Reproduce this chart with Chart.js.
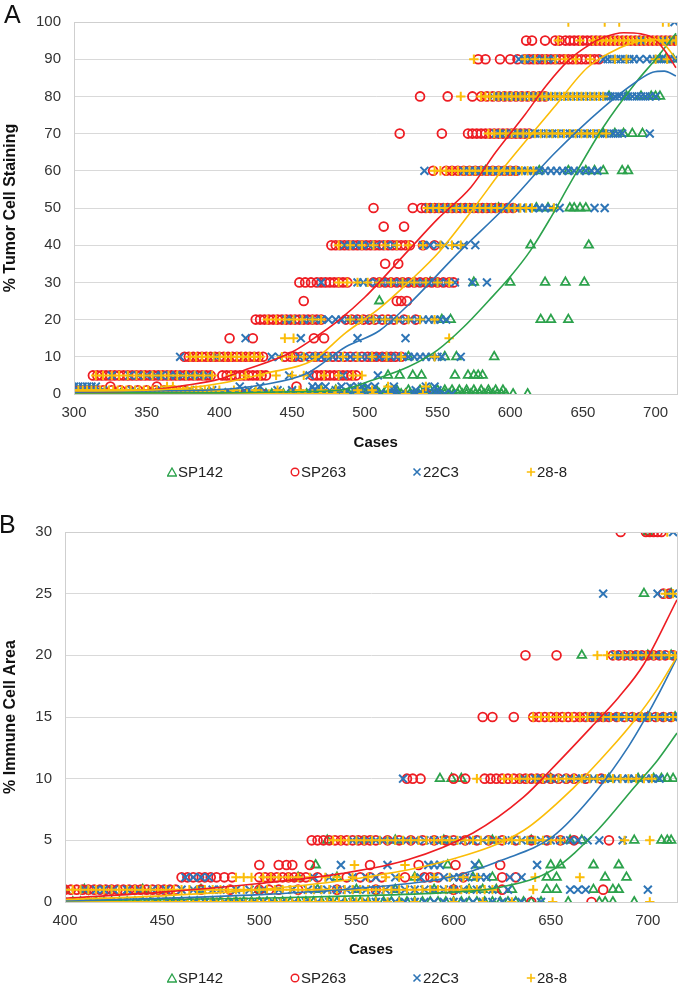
<!DOCTYPE html>
<html>
<head>
<meta charset="utf-8">
<script src="https://cdn.jsdelivr.net/npm/chart.js@4.4.1/dist/chart.umd.min.js"></script>
<style>
  body { margin: 0; background: #fff; font-family: "Liberation Sans", Arial, sans-serif; }
  #wrap { position: relative; width: 685px; height: 987px; overflow: hidden; }
  canvas { position: absolute; left: 0; }
  .panel { position: absolute; font-size: 25px; line-height: 1; color: #111; }
  .legend { position: absolute; left: 0; width: 685px; height: 20px; font-size: 15px; color: #222; }
  .legend span { position: absolute; top: 0; line-height: 20px; }
  .legend svg { position: absolute; top: 5px; }
</style>
</head>
<body>
<div id="wrap">
  <canvas id="chartA" width="685" height="500" style="top:0"></canvas>
  <canvas id="chartB" width="685" height="487" style="top:500px"></canvas>
  <div class="panel" style="left:4px;top:2px">A</div>
  <div class="panel" style="left:-1px;top:512px">B</div>
  <div class="legend" id="legendA" style="top:462px"></div>
  <div class="legend" id="legendB" style="top:968px"></div>
</div>
<script>
var seriesNames = ["SP142", "SP263", "22C3", "28-8"];
var seriesColors = ["#2ca24c", "#ee1d23", "#2e75b6", "#fbbd08"];
var seriesMarkers = ["triangle", "circle", "crossRot", "cross"];

var xTicksA = [300, 350, 400, 450, 500, 550, 600, 650, 700];
var xTicksB = [400, 450, 500, 550, 600, 650, 700];

// panel A: % tumor cell staining, x = case number, keyed by score level
var tumorSP142 = {
  0: [300, 304, 308, 312, 316, 320, 324, 328, 332, 336, 340, 344, 348, 352, 356, 360, 364, 368, 372, 376, 380, 384, 388, 392, 396, 400, 404, 408, 412, 416, 420, 424, 428, 432, 436, 440, 444, 448, 452, 456, 460, 464, 468, 471, 474, 477, 480, 483, 486, 489, 492, 495, 498, 501, 504, 507, 510, 513, 516, 519, 522, 525, 528, 531, 534, 537, 540, 543, 546, 549, 552, 555, 558, 561, 564, 567, 570, 573, 576, 579, 582, 585, 588, 591, 594, 597, 602, 612],
  1: [470, 480, 490, 500, 508, 515, 522, 530, 538, 545, 550, 555, 560, 565, 570, 575, 580, 585, 590, 595],
  5: [516, 524, 533, 539, 562, 571, 575, 578, 581],
  10: [530, 555, 563, 589],
  20: [553, 559, 621, 628, 640],
  25: [510],
  30: [545, 575, 600, 624, 638, 651],
  40: [614, 654],
  50: [592, 618, 626, 641, 644, 648, 652],
  60: [583, 620, 640, 652, 658, 664, 677, 681],
  70: [664, 672, 678, 684, 691],
  80: [668, 680, 690, 697, 700, 703],
  90: [703, 707, 712],
  95: [714]
};
var tumorSP263 = {
  0: [300, 303, 306, 310, 314, 318, 324, 330, 338, 344, 348, 352, 356, 360, 364, 372, 385, 390, 393, 396, 399, 405, 418, 430, 440, 473, 542],
  1: [300, 304, 308, 312, 316, 320, 326, 332, 338, 344, 350, 356, 362, 368, 375],
  2: [325, 357, 453],
  5: [313, 316, 319, 322, 325, 328, 331, 334, 337, 340, 343, 346, 349, 352, 355, 358, 361, 364, 367, 370, 373, 376, 379, 382, 385, 388, 391, 394, 402, 405, 408, 411, 414, 417, 420, 423, 426, 429, 432, 464, 467, 470, 473, 476, 479, 482, 485, 488, 491, 494],
  10: [376, 379, 382, 385, 388, 391, 394, 397, 400, 403, 406, 409, 412, 415, 418, 421, 424, 427, 430, 445, 449, 452, 456, 462, 466, 470, 474, 478, 482, 486, 490, 494, 498, 502, 505, 508, 512, 515, 518, 521, 525],
  15: [407, 423, 465, 472],
  20: [425, 428, 431, 434, 437, 440, 443, 446, 449, 452, 455, 458, 461, 464, 467, 470, 487, 491, 495, 499, 503, 507, 512, 516, 520, 527, 535],
  25: [458, 522, 525, 529],
  30: [455, 459, 463, 467, 470, 473, 476, 479, 482, 485, 488, 506, 510, 514, 518, 522, 526, 530, 534, 538, 542, 546, 550, 554, 558, 561],
  35: [514, 523],
  40: [477, 480, 483, 486, 489, 492, 495, 498, 501, 504, 507, 510, 513, 516, 519, 522, 525, 528, 531, 540, 548],
  45: [513, 527],
  50: [506, 533, 539, 542, 545, 548, 551, 554, 557, 560, 563, 566, 569, 572, 575, 578, 581, 584, 587, 590, 594, 598, 602],
  60: [547, 556, 560, 564, 568, 572, 576, 580, 584, 588, 592, 596, 600, 604],
  70: [524, 553, 571, 574, 577, 580, 583, 586, 589, 592, 595, 598, 601, 604, 607, 610, 613],
  80: [538, 557, 574, 580, 584, 588, 592, 596, 600, 604, 608, 612, 616, 620, 624],
  90: [578, 583, 593, 600, 605, 610, 613, 616, 619, 622, 625, 628, 631, 634, 637, 640, 643, 646, 649, 652, 655, 658, 661],
  95: [611, 615, 624, 631, 634, 638, 641, 644, 647, 650, 653, 656, 659, 662, 665, 668, 671, 674, 677, 680, 683, 686, 689, 692, 695, 698, 701, 704, 707, 710, 713]
};
var tumor22C3 = {
  0: [300, 305, 310, 315, 320, 325, 330, 335, 340, 345, 350, 355, 360, 365, 370, 375, 380, 382, 384, 386, 388, 390, 392, 394, 396, 398, 400, 402, 404, 406, 408, 410, 415, 420, 425, 430, 435, 440, 445, 450, 455, 460, 465, 470, 475, 480, 485, 490, 495, 500, 505, 510, 515, 520, 525, 530, 535, 540, 545, 550, 555, 560],
  1: [320, 340, 360, 380, 395, 420, 440, 450, 465, 480, 495, 505, 520, 535, 550],
  2: [300, 303, 306, 309, 312, 315, 414, 428, 464, 468, 473, 484, 490, 495, 498, 502, 507, 520, 542, 548],
  5: [326, 338, 344, 350, 356, 360, 366, 370, 375, 380, 386, 392, 448, 462, 485, 509],
  10: [373, 398, 436, 441, 455, 462, 466, 470, 474, 478, 482, 486, 490, 494, 498, 502, 506, 510, 514, 518, 522, 526, 530, 534, 538, 542, 546, 550, 553, 566],
  15: [418, 456, 495, 528],
  20: [446, 450, 458, 462, 466, 470, 475, 480, 484, 488, 492, 496, 500, 504, 508, 512, 516, 520, 524, 528, 532, 536, 540, 544, 548, 552, 556],
  30: [470, 495, 499, 503, 508, 512, 516, 520, 524, 528, 532, 536, 540, 544, 548, 552, 556, 562, 574, 584],
  40: [486, 490, 494, 498, 503, 508, 515, 520, 540, 545, 550, 555, 562, 568, 576],
  50: [544, 548, 552, 556, 560, 564, 568, 572, 576, 580, 584, 588, 592, 596, 600, 604, 608, 612, 616, 620, 624, 628, 634, 658, 665],
  60: [541, 568, 572, 576, 580, 584, 588, 592, 596, 600, 604, 608, 612, 616, 620, 624, 628, 632, 636, 640, 644, 648, 652, 656, 660],
  70: [590, 593, 596, 599, 602, 605, 608, 611, 614, 617, 620, 623, 626, 629, 632, 635, 638, 641, 644, 647, 650, 653, 656, 659, 662, 665, 668, 671, 674, 677, 696],
  80: [588, 591, 594, 597, 600, 603, 606, 609, 612, 615, 618, 621, 624, 627, 630, 633, 636, 639, 642, 645, 648, 651, 654, 657, 660, 663, 666, 669, 672, 675, 678, 681, 684, 687, 690, 693, 696, 700],
  90: [606, 610, 614, 618, 622, 626, 630, 664, 667, 670, 673, 676, 679, 682, 685, 689, 694, 698, 701, 704, 707, 710, 713],
  95: [690, 705, 712],
  100: [713]
};
var tumor288 = {
  0: [300, 303, 306, 309, 312, 315, 318, 321, 324, 327, 330, 333, 336, 339, 342, 345, 348, 351, 354, 357, 360, 363, 366, 369, 372, 375, 378, 381, 384, 387, 390, 393, 396, 399, 404, 409, 414, 419, 424, 429, 434, 439, 444, 449, 454, 459, 464, 469, 474, 479, 486, 496, 506, 516, 528, 540],
  1: [300, 303, 306, 309, 312, 315, 318, 321, 324, 327, 330, 333, 336, 339, 342, 345, 348, 351, 354, 357, 360, 363, 366, 369, 372, 375, 378, 381, 384, 387, 390, 393, 396, 400, 410, 425, 440, 455, 470, 480, 495, 505],
  2: [364, 368, 516, 542],
  5: [315, 320, 326, 331, 337, 343, 348, 354, 360, 365, 371, 377, 383, 389, 395, 408, 418, 428, 439, 450, 458, 472, 482, 492, 498],
  10: [380, 384, 388, 392, 396, 400, 404, 408, 412, 416, 420, 424, 428, 443, 450, 458, 466, 475, 485, 495, 505, 515, 525, 548],
  15: [445, 451, 558],
  20: [433, 439, 445, 451, 457, 464, 470, 490, 498, 506, 514, 522, 530, 538, 548],
  30: [482, 488, 495, 502, 510, 518, 526, 534, 542, 550, 558],
  40: [482, 490, 498, 506, 514, 522, 530, 540, 552, 560, 566],
  50: [543, 547, 551, 555, 559, 563, 567, 571, 575, 579, 583, 587, 591, 595, 599, 603, 607, 611, 615, 630],
  60: [548, 552, 556, 560, 564, 568, 572, 576, 580, 584, 588, 592, 596, 600, 604, 608, 612, 616],
  70: [585, 589, 593, 597, 601, 605, 609, 613, 617, 621, 625, 629, 633, 637, 641, 645, 649, 653, 657, 661, 666],
  80: [566, 580, 583, 586, 589, 592, 595, 598, 601, 604, 607, 610, 613, 616, 619, 622, 625, 628, 631, 634, 637, 640, 643, 646, 649, 652, 655, 658, 661, 664],
  90: [575, 610, 617, 624, 631, 638, 645, 655, 672, 680, 700, 708],
  95: [633, 648, 657, 660, 663, 666, 669, 672, 675, 678, 681, 684, 687, 690, 693, 696, 699, 702, 705, 708, 711, 714],
  100: [640, 665, 675, 705, 709]
};

// panel A trend curves as [case, %]
var tumorTrendSP142 = [[300, 0.3], [400, 0.3], [450, 0.6], [482, 1], [505, 3.7], [530, 7.3], [550, 11.8], [568, 18], [585, 25], [600, 31.5], [614, 38.6], [628, 47.5], [641, 56.5], [664, 71.7], [687, 84], [700, 90], [714, 97]];
var tumorTrendSP263 = [[300, 0.5], [350, 1], [378, 2.4], [400, 4], [414, 6], [450, 11.3], [468, 15.8], [482, 19.8], [500, 26], [530, 38.6], [550, 47], [573, 55.6], [590, 65], [610, 75], [625, 83], [641, 90], [655, 94], [664, 95.8], [678, 97.1], [690, 96.8], [698, 95.8], [706, 92.5], [714, 87.7]];
var tumorTrend22C3 = [[300, 0.5], [350, 0.8], [400, 1.2], [430, 2.5], [460, 5.5], [487, 12.7], [510, 17], [530, 24], [566, 38.6], [596, 50], [630, 64.5], [664, 77], [687, 84], [698, 86.5], [706, 86.8], [714, 85.5]];
var tumorTrend288 = [[300, 0.8], [350, 1], [378, 1.6], [400, 2.8], [432, 5.6], [464, 9], [487, 16.5], [510, 23], [530, 30], [552, 38.6], [575, 50], [596, 61], [615, 70], [630, 77], [653, 87.7], [675, 93], [690, 95], [698, 95.4], [706, 94], [714, 90]];

// panel B: % immune cell area
var immuneSP142 = {
  0: [400, 404, 408, 412, 416, 420, 424, 428, 432, 436, 440, 444, 448, 452, 456, 460, 464, 468, 472, 476, 480, 484, 488, 492, 496, 500, 504, 508, 512, 516, 520, 524, 528, 532, 536, 540, 544, 548, 552, 556, 560, 564, 568, 572, 576, 580, 584, 588, 592, 596, 600, 604, 608, 612, 616, 620, 624, 628, 632, 636, 640, 645, 659, 675, 678, 682, 693],
  1: [400, 410, 440, 470, 500, 530, 550, 570, 590, 600, 608, 615, 622, 630, 648, 653, 672, 682, 685],
  2: [520, 540, 580, 610, 620, 648, 653, 678, 689],
  3: [529, 597, 613, 650, 655, 672, 685],
  5: [535, 570, 595, 620, 640, 660, 666, 693, 707, 710, 712],
  10: [593, 599, 604, 650, 680, 695, 703, 707, 710, 713],
  15: [700, 714],
  20: [666, 700, 712],
  25: [698, 712],
  30: [700]
};
var immuneSP263 = {
  0: [640, 671],
  1: [400, 403, 406, 409, 412, 415, 418, 421, 424, 427, 430, 433, 436, 439, 442, 445, 448, 451, 454, 457, 470, 485, 500, 505, 510, 520, 540, 560, 600, 625, 677],
  2: [460, 463, 466, 469, 472, 475, 478, 482, 486, 500, 503, 506, 509, 512, 515, 518, 521, 524, 530, 545, 552, 557, 563, 575, 585, 588, 592, 605, 625, 632],
  3: [500, 510, 514, 517, 526, 557, 582, 601, 624],
  5: [527, 530, 533, 536, 539, 542, 545, 548, 551, 554, 557, 560, 566, 572, 578, 584, 590, 596, 600, 606, 612, 618, 625, 632, 640, 648, 655, 662, 680],
  10: [576, 579, 583, 600, 606, 616, 619, 622, 625, 628, 631, 634, 637, 640, 643, 646, 650, 654, 658, 662, 668, 676],
  15: [615, 620, 631, 641, 644, 647, 650, 653, 656, 659, 662, 665, 668, 671, 674, 677, 680, 684, 688, 692, 696, 700, 704, 708, 712],
  20: [637, 653, 682, 685, 688, 691, 694, 697, 700, 703, 706, 709, 713],
  25: [708, 711],
  30: [686, 699, 701, 703, 705, 707]
};
var immune22C3 = {
  0: [402, 407, 412, 417, 422, 427, 432, 437, 442, 447, 452, 457, 462, 467, 472, 477, 482, 487, 492, 497, 502, 507, 512, 518, 524, 530, 536, 542, 548, 555, 560, 565, 570, 575, 580, 585, 590, 595, 600, 605, 610, 615, 620, 625, 630, 635, 645],
  1: [410, 416, 420, 425, 432, 438, 445, 452, 460, 466, 470, 476, 480, 488, 495, 502, 510, 517, 525, 530, 535, 540, 545, 550, 555, 560, 565, 570, 575, 580, 585, 590, 595, 600, 605, 612, 620, 628, 660, 664, 668, 700],
  2: [462, 466, 470, 474, 528, 536, 548, 555, 560, 570, 583, 590, 595, 600, 603, 606, 611, 614, 617, 629, 635],
  3: [542, 566, 587, 590, 593, 611, 643],
  5: [548, 552, 556, 560, 564, 568, 572, 576, 580, 585, 590, 595, 600, 605, 610, 615, 620, 625, 630, 635, 640, 645, 650, 655, 660, 664, 669, 675, 687],
  10: [574, 636, 642, 645, 650, 655, 660, 663, 666, 669, 672, 675, 678, 681, 684, 687, 690, 693, 696, 699, 702, 706],
  15: [670, 673, 676, 679, 682, 685, 688, 691, 694, 697, 700, 703, 706, 709, 713],
  20: [683, 686, 689, 692, 695, 698, 701, 704, 707, 710, 714],
  25: [677, 705, 710, 713],
  30: [713]
};
var immune288 = {
  0: [400, 403, 406, 409, 412, 415, 418, 421, 424, 427, 430, 433, 436, 439, 442, 445, 448, 451, 454, 457, 460, 463, 466, 469, 472, 475, 478, 481, 484, 487, 490, 493, 496, 499, 502, 505, 508, 511, 514, 517, 520, 523, 526, 529, 532, 535, 538, 541, 544, 547, 550, 553, 556, 560, 566, 572, 580, 600, 615, 630, 651, 701],
  1: [400, 404, 408, 412, 416, 420, 424, 428, 432, 436, 440, 444, 448, 452, 456, 460, 464, 468, 472, 476, 480, 484, 488, 492, 496, 500, 504, 508, 512, 516, 520, 524, 528, 532, 536, 540, 544, 548, 552, 556, 560, 564, 568, 572, 576, 580, 584, 588, 592, 596, 600, 604, 608, 612, 616, 620, 641],
  2: [488, 492, 496, 502, 506, 510, 515, 520, 526, 534, 540, 548, 556, 565, 572, 580, 590, 598, 605, 612, 642, 665],
  3: [549, 575],
  5: [538, 542, 546, 550, 554, 558, 562, 566, 570, 574, 578, 582, 586, 590, 594, 598, 602, 606, 610, 614, 618, 622, 626, 630, 634, 638, 642, 646, 650, 655, 688, 701],
  10: [612, 626, 630, 634, 638, 642, 646, 650, 654, 658, 662, 666, 670, 674, 678, 682, 686, 690, 694, 698, 702],
  15: [641, 645, 649, 653, 657, 661, 665, 669, 673, 677, 681, 685, 689, 693, 697, 701, 705, 709, 713],
  20: [674, 679, 683, 687, 691, 695, 699, 703, 707, 711, 714],
  25: [709, 713],
  30: [710]
};

var immuneTrendSP142 = [[400, 0.1], [500, 0.3], [550, 0.5], [600, 0.8], [624, 1.2], [651, 2.6], [674, 5.8], [693, 9.3], [705, 11.5], [715, 13.7]];
var immuneTrendSP263 = [[400, 0.3], [450, 0.8], [500, 1.5], [542, 2.3], [576, 3.4], [610, 5.6], [636, 8.5], [653, 11.2], [671, 14.2], [685, 16.6], [698, 19.3], [715, 24.5]];
var immuneTrend22C3 = [[400, 0.1], [450, 0.3], [500, 0.6], [550, 1.1], [598, 2], [625, 3.4], [651, 5.3], [674, 9.1], [690, 12.6], [698, 14.7], [706, 17], [715, 19.8]];
var immuneTrend288 = [[400, 0.2], [450, 0.5], [500, 1], [550, 1.9], [600, 3.5], [636, 5.8], [662, 9.3], [680, 12.3], [693, 14.7], [705, 17.3], [715, 19.9]];

var tickFont = { family: "'Liberation Sans', Arial, sans-serif", size: 15 };
var titleFont = { family: "'Liberation Sans', Arial, sans-serif", size: 15, weight: "bold" };

function toPoints(levels) {
  var pts = [];
  Object.keys(levels).forEach(function (y) {
    levels[y].forEach(function (x) {
      pts.push({ x: x, y: Number(y) });
    });
  });
  return pts;
}

function pairsToPoints(pairs) {
  return pairs.map(function (p) { return { x: p[0], y: p[1] }; });
}

var markerRadius = [5, 4.4, 5.6, 4.7];

// index 0 is drawn last by Chart.js, so trend lines first, then 28-8 .. SP142
function buildDatasets(scatterSets, trendSets) {
  var ds = [];
  for (var i = 3; i >= 0; i--) {
    ds.push({
      type: "line",
      data: pairsToPoints(trendSets[i]),
      borderColor: seriesColors[i],
      borderWidth: 1.6,
      pointRadius: 0,
      fill: false,
      cubicInterpolationMode: "monotone"
    });
  }
  for (var j = 3; j >= 0; j--) {
    ds.push({
      type: "scatter",
      label: seriesNames[j],
      data: toPoints(scatterSets[j]),
      pointStyle: seriesMarkers[j],
      pointRadius: markerRadius[j],
      borderColor: seriesColors[j],
      backgroundColor: "rgba(0,0,0,0)",
      borderWidth: j >= 2 ? 2 : 1.8
    });
  }
  return ds;
}

var frame = {
  id: "frame",
  afterDraw: function (chart) {
    var a = chart.chartArea, ctx = chart.ctx;
    ctx.save();
    ctx.strokeStyle = "#cfcfcf";
    ctx.lineWidth = 1;
    ctx.strokeRect(Math.round(a.left) + 0.5, Math.round(a.top) + 0.5, Math.round(a.right - a.left), Math.round(a.bottom - a.top));
    ctx.restore();
  }
};

function makeChart(id, opts) {
  return new Chart(document.getElementById(id), {
    type: "scatter",
    data: { datasets: buildDatasets(opts.scatter, opts.trends) },
    options: {
      responsive: false,
      animation: false,
      devicePixelRatio: 1,
      layout: { padding: opts.padding },
      plugins: { legend: { display: false }, tooltip: { enabled: false } },
      scales: {
        x: {
          type: "linear",
          min: opts.xTicks[0],
          max: 715,
          afterBuildTicks: function (s) {
            s.ticks = opts.xTicks.map(function (v) { return { value: v }; });
          },
          afterFit: function (s) { s.height = 60; },
          ticks: { padding: 10, maxRotation: 0, autoSkip: false, color: "#333", font: tickFont },
          grid: { display: false, drawTicks: false },
          border: { display: true, color: "#cfcfcf" },
          title: { display: true, text: "Cases", color: "#111", font: titleFont, padding: { top: 0, bottom: opts.xTitlePad } }
        },
        y: {
          min: 0,
          max: opts.yMax,
          afterFit: function (s) { s.width = opts.yWidth; },
          ticks: { stepSize: opts.yStep, padding: 13, color: "#333", font: tickFont },
          grid: { color: "#d9d9d9", drawTicks: false },
          border: { display: true, color: "#cfcfcf" },
          title: { display: true, text: opts.yTitle, color: "#111", font: { family: titleFont.family, size: 16, weight: "bold" }, padding: { top: 1, bottom: 0 } }
        }
      }
    },
    plugins: [frame]
  });
}

makeChart("chartA", {
  scatter: [tumorSP142, tumorSP263, tumor22C3, tumor288],
  trends: [tumorTrendSP142, tumorTrendSP263, tumorTrend22C3, tumorTrend288],
  xTicks: xTicksA, yMax: 100, yStep: 10, yWidth: 74,
  yTitle: "% Tumor Cell Staining",
  padding: { top: 21, right: 4, bottom: 46, left: 0 },
  xTitlePad: 2
});

makeChart("chartB", {
  scatter: [immuneSP142, immuneSP263, immune22C3, immune288],
  trends: [immuneTrendSP142, immuneTrendSP263, immuneTrend22C3, immuneTrend288],
  xTicks: xTicksB, yMax: 30, yStep: 5, yWidth: 65,
  yTitle: "% Immune Cell Area",
  padding: { top: 32, right: 8, bottom: 25, left: 0 },
  xTitlePad: 3
});

var legendX = [172, 295, 417, 531];
var markerSvg = [
  '<polygon points="5,1 9.5,9 0.5,9" fill="none" stroke="COL" stroke-width="1.3"/>',
  '<circle cx="5" cy="5" r="3.8" fill="none" stroke="COL" stroke-width="1.4"/>',
  '<path d="M1.5,1.5 L8.5,8.5 M8.5,1.5 L1.5,8.5" stroke="COL" stroke-width="1.6"/>',
  '<path d="M5,0.8 L5,9.2 M0.8,5 L9.2,5" stroke="COL" stroke-width="1.6"/>'
];

function buildLegend(id) {
  var el = document.getElementById(id);
  var html = "";
  for (var i = 0; i < 4; i++) {
    html += '<svg width="10" height="10" style="left:' + (legendX[i] - 5) + 'px">' +
      markerSvg[i].replace("COL", seriesColors[i]) + "</svg>";
    html += '<span style="left:' + (legendX[i] + 6) + 'px">' + seriesNames[i] + "</span>";
  }
  el.innerHTML = html;
}
buildLegend("legendA");
buildLegend("legendB");
</script>
</body>
</html>
